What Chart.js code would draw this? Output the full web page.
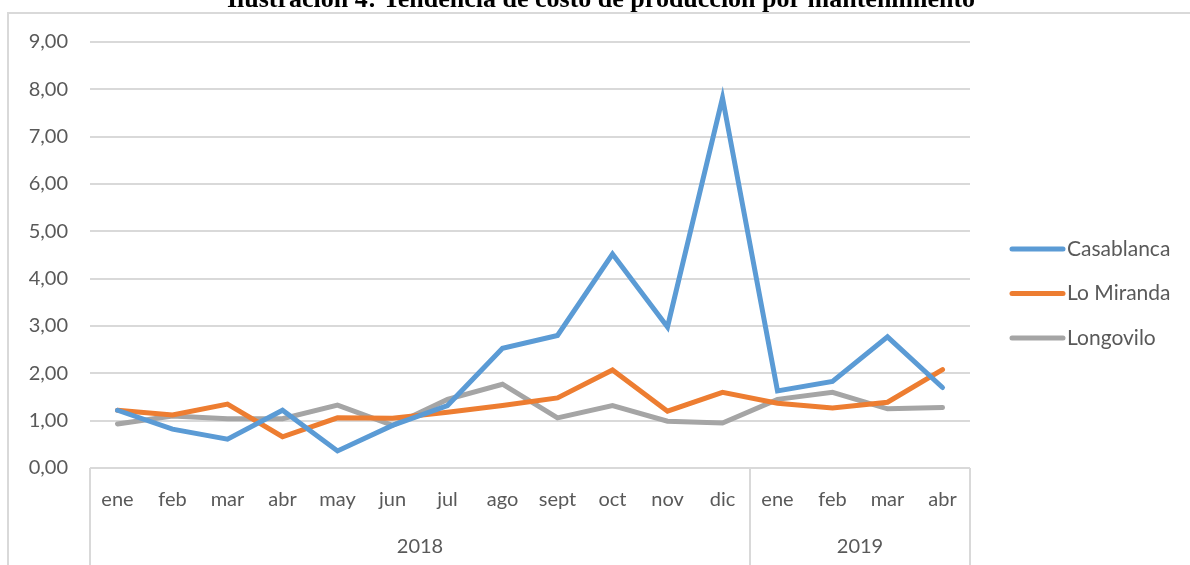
<!DOCTYPE html>
<html>
<head>
<meta charset="utf-8">
<script src="https://cdn.jsdelivr.net/npm/chart.js@4/dist/chart.umd.min.js"></script>
<style>
  html, body { margin: 0; padding: 0; background: #fff; }
  #wrap { width: 1190px; height: 565px; position: relative; }
</style>
</head>
<body>
<div id="wrap"><canvas id="costChart" width="1190" height="565"></canvas></div>
<script>
// data
const months = ['ene', 'feb', 'mar', 'abr', 'may', 'jun', 'jul', 'ago', 'sept', 'oct', 'nov', 'dic', 'ene', 'feb', 'mar', 'abr'];
const years = ['2018', '2019'];
const monthsPerYear = [12, 4];
const casablanca = [1.22, 0.82, 0.61, 1.22, 0.36, 0.90, 1.32, 2.53, 2.80, 4.52, 2.98, 7.82, 1.63, 1.83, 2.77, 1.70];
const loMiranda = [1.22, 1.12, 1.35, 0.66, 1.06, 1.05, 1.18, 1.32, 1.48, 2.07, 1.20, 1.60, 1.37, 1.27, 1.39, 2.08];
const longovilo = [0.93, 1.10, 1.04, 1.04, 1.33, 0.90, 1.45, 1.77, 1.06, 1.32, 0.99, 0.95, 1.45, 1.60, 1.25, 1.28];
const yTicks = [0, 1, 2, 3, 4, 5, 6, 7, 8, 9];

const textGray = '#595959';
const lineGray = '#d9d9d9';

// title, frame, year grouping and legend drawn on the canvas
const extras = {
  id: 'extras',
  afterDraw(chart) {
    const ctx = chart.ctx;
    const area = chart.chartArea;
    const x = chart.scales.x;
    ctx.save();

    // frame
    ctx.strokeStyle = lineGray;
    ctx.lineWidth = 2;
    ctx.beginPath();
    ctx.moveTo(8, 565);
    ctx.lineTo(8, 13);
    ctx.lineTo(1190, 13);
    ctx.stroke();

    // title (cut at the top, as in the source)
    ctx.fillStyle = '#000';
    ctx.font = 'bold 26px "Liberation Serif"';
    ctx.textAlign = 'center';
    ctx.textBaseline = 'alphabetic';
    ctx.fillText('Ilustración 4: Tendencia de costo de producción por mantenimiento', 601, 7);

    // category box lines + year labels
    const step = x.getPixelForValue(1) - x.getPixelForValue(0);
    ctx.strokeStyle = lineGray;
    ctx.lineWidth = 2;
    ctx.fillStyle = textGray;
    ctx.font = '20px Lato';
    ctx.textBaseline = 'middle';
    let start = 0;
    const edges = [area.left];
    years.forEach((yr, i) => {
      const end = start + monthsPerYear[i] - 1;
      const left = x.getPixelForValue(start) - step / 2;
      const right = x.getPixelForValue(end) + step / 2;
      edges.push(right);
      ctx.fillText(yr, (left + right) / 2, 547);
      start = end + 1;
    });
    edges.forEach(e => {
      ctx.beginPath();
      ctx.moveTo(e, area.bottom);
      ctx.lineTo(e, 565);
      ctx.stroke();
    });

    // legend
    ctx.textAlign = 'left';
    ctx.lineCap = 'round';
    ctx.font = '21px Lato';
    chart.data.datasets.forEach((ds, i) => {
      const ly = 249 + i * 44.5;
      ctx.strokeStyle = ds.borderColor;
      ctx.lineWidth = 5;
      ctx.beginPath();
      ctx.moveTo(1012, ly);
      ctx.lineTo(1063, ly);
      ctx.stroke();
      ctx.fillStyle = textGray;
      ctx.fillText(ds.label, 1067, ly);
    });

    ctx.restore();
  }
};

new Chart(document.getElementById('costChart'), {
  type: 'line',
  data: {
    labels: months,
    datasets: [
      { label: 'Casablanca', data: casablanca, borderColor: '#5b9bd5', backgroundColor: '#5b9bd5' },
      { label: 'Lo Miranda', data: loMiranda, borderColor: '#ed7d31', backgroundColor: '#ed7d31' },
      { label: 'Longovilo', data: longovilo, borderColor: '#a5a5a5', backgroundColor: '#a5a5a5' }
    ]
  },
  options: {
    responsive: false,
    animation: false,
    layout: { padding: { left: 10, right: 220, top: 42, bottom: 0 } },
    elements: {
      line: { borderWidth: 5, tension: 0, borderCapStyle: 'round', borderJoinStyle: 'miter' },
      point: { radius: 0 }
    },
    plugins: {
      legend: { display: false },
      tooltip: { enabled: false }
    },
    scales: {
      x: {
        offset: true,
        grid: { display: false, drawTicks: false },
        border: { display: false },
        ticks: { color: textGray, font: { family: 'Lato', size: 20 }, padding: 20, maxRotation: 0, autoSkip: false },
        afterFit(s) { s.height = 97; }
      },
      y: {
        min: 0,
        max: 9,
        afterBuildTicks(s) { s.ticks = yTicks.map(v => ({ value: v })); },
        grid: { color: lineGray, lineWidth: 2, drawTicks: false },
        border: { display: false },
        ticks: {
          color: textGray,
          font: { family: 'Lato', size: 20 },
          padding: 22,
          callback: v => v.toFixed(2).replace('.', ',')
        },
        afterFit(s) { s.width = 80; }
      }
    }
  },
  plugins: [extras]
});
</script>
</body>
</html>
